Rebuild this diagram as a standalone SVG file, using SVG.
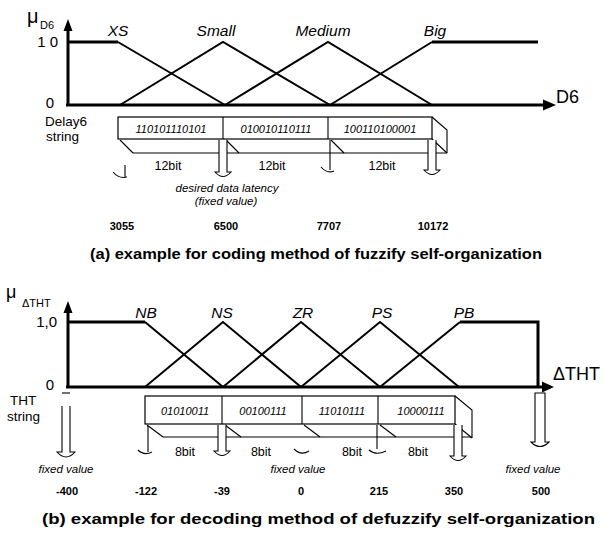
<svg xmlns="http://www.w3.org/2000/svg" width="604" height="533" viewBox="0 0 604 533">
<style>
  text { font-family: "Liberation Sans", Arial, sans-serif; fill: #000; }
  .axis { stroke: #000; stroke-width: 3; fill: none; }
  .mf { stroke: #000; stroke-width: 2; fill: none; stroke-linejoin: miter; }
  .plat { stroke: #000; stroke-width: 3; fill: none; }
  .box { stroke: #000; stroke-width: 1.2; fill: #fff; }
  .edge { stroke: #000; stroke-width: 1.1; fill: none; }
  .hol { stroke: #000; stroke-width: 1.1; fill: #fff; }
  .lbl { font-size: 15.5px; font-style: italic; }
  .bits { font-size: 11px; font-style: italic; }
  .nbit { font-size: 12.5px; }
  .num { font-size: 11px; font-weight: bold; }
  .note { font-size: 11.5px; font-style: italic; }
  .side { font-size: 13.5px; }
  .title { font-size: 14px; font-weight: bold; }
</style>
<rect width="604" height="533" fill="#fff"/>

<!-- ===== Part (a) ===== -->
<g id="chart-a">
  <g id="axes-a">
    <line class="axis" x1="68" y1="106" x2="68" y2="28"/>
    <polygon points="68,19 63.5,31 72.5,31" fill="#000"/>
    <line class="axis" x1="66" y1="105" x2="544" y2="105"/>
    <polygon points="556,105 543,99.5 543,110.5" fill="#000"/>
    <text x="27" y="23" font-size="20">μ</text>
    <text x="40" y="29" font-size="11">D6</text>
    <text x="58" y="47" font-size="15" text-anchor="end">1 0</text>
    <text x="54" y="108" font-size="15" text-anchor="end">0</text>
    <text x="556" y="103" font-size="18">D6</text>
  </g>
  <g id="mf-a">
    <polyline class="plat" points="68,42 118,42"/>
    <line class="mf" x1="118" y1="42" x2="225" y2="105"/>
    <polyline class="mf" points="120,105 223,42 330,105"/>
    <polyline class="mf" points="225,105 328,42 432,105"/>
    <polyline class="mf" points="330,105 432,42"/>
    <polyline class="plat" points="432,42 538,42"/>
    <text class="lbl" x="118" y="36" text-anchor="middle">XS</text>
    <text class="lbl" x="216" y="36" text-anchor="middle">Small</text>
    <text class="lbl" x="323" y="36" text-anchor="middle">Medium</text>
    <text class="lbl" x="435" y="36" text-anchor="middle">Big</text>
  </g>
  <g id="string-a">
    <text class="side" x="45" y="126">Delay6</text>
    <text class="side" x="46" y="141">string</text>
    <polyline class="edge" points="432,117 447,130 447,153"/>
    <line class="edge" x1="432" y1="139" x2="447" y2="153"/>
    <line class="edge" x1="133" y1="153" x2="447" y2="153"/>
    <line class="edge" x1="120" y1="140" x2="133" y2="153"/>
    <line class="edge" x1="226" y1="140" x2="239" y2="153"/>
    <line class="edge" x1="331" y1="140" x2="344" y2="153"/>
    <rect class="box" x="118" y="117" width="314" height="22"/>
    <line class="edge" x1="223" y1="117" x2="223" y2="139"/>
    <line class="edge" x1="328" y1="117" x2="328" y2="139"/>
    <text class="bits" x="171" y="133" text-anchor="middle">110101110101</text>
    <text class="bits" x="276" y="133" text-anchor="middle">010010110111</text>
    <text class="bits" x="380" y="133" text-anchor="middle">100110100001</text>
    <text class="nbit" x="168" y="170" text-anchor="middle">12bit</text>
    <text class="nbit" x="272" y="170" text-anchor="middle">12bit</text>
    <text class="nbit" x="382" y="170" text-anchor="middle">12bit</text>
  </g>
  <g id="connectors-a">
    <path class="edge" d="M125,165 V177 M113,172 Q119,179 127,177"/>
    <path class="hol" d="M219,140 V172 H215 Q223,181 231,172 H227 V140"/>
    <path class="edge" d="M330,140 V170 M321,167 Q327,174 334,171"/>
    <path class="hol" d="M428,140 V170 H424 Q432,179 440,170 H436 V140"/>
  </g>
  <g id="values-a">
    <text class="note" x="227" y="192" text-anchor="middle">desired data latency</text>
    <text class="note" x="226" y="205" text-anchor="middle">(fixed value)</text>
    <text class="num" x="122" y="230" text-anchor="middle">3055</text>
    <text class="num" x="226" y="230" text-anchor="middle">6500</text>
    <text class="num" x="329" y="230" text-anchor="middle">7707</text>
    <text class="num" x="433" y="230" text-anchor="middle">10172</text>
  </g>
  <text class="title" x="90" y="259" textLength="452" lengthAdjust="spacingAndGlyphs">(a) example for coding method of fuzzify self-organization</text>
</g>

<!-- ===== Part (b) ===== -->
<g id="chart-b">
  <g id="axes-b">
    <line class="axis" x1="68" y1="388" x2="68" y2="310"/>
    <polygon points="68,301 63.5,313 72.5,313" fill="#000"/>
    <line class="axis" x1="66" y1="387" x2="543" y2="387"/>
    <polygon points="554,387 542,381.5 542,392.5" fill="#000"/>
    <text x="6" y="298" font-size="18">μ</text>
    <text x="22" y="307" font-size="11">ΔTHT</text>
    <text x="57" y="327" font-size="15" text-anchor="end">1,0</text>
    <text x="54" y="390" font-size="15" text-anchor="end">0</text>
    <text x="553" y="380" font-size="18">ΔTHT</text>
  </g>
  <g id="mf-b">
    <polyline class="plat" points="68,322 145,322"/>
    <line class="mf" x1="145" y1="322" x2="223" y2="387"/>
    <polyline class="mf" points="145,387 223,322 301,387"/>
    <polyline class="mf" points="223,387 301,322 380,387"/>
    <polyline class="mf" points="301,387 380,322 459,387"/>
    <polyline class="mf" points="380,387 460,322"/>
    <polyline class="plat" points="460,322 538,322 538,387"/>
    <text class="lbl" x="146" y="318" text-anchor="middle" font-size="15">NB</text>
    <text class="lbl" x="222" y="318" text-anchor="middle" font-size="15">NS</text>
    <text class="lbl" x="303" y="318" text-anchor="middle" font-size="15">ZR</text>
    <text class="lbl" x="382" y="318" text-anchor="middle" font-size="15">PS</text>
    <text class="lbl" x="464" y="318" text-anchor="middle" font-size="15">PB</text>
  </g>
  <g id="string-b">
    <text class="side" x="10" y="405" font-size="13">THT</text>
    <text class="side" x="7" y="421" font-size="13">string</text>
    <polyline class="edge" points="455,396 472,410 472,438"/>
    <line class="edge" x1="455" y1="424" x2="472" y2="438"/>
    <line class="edge" x1="163" y1="437" x2="472" y2="437"/>
    <line class="edge" x1="147" y1="425" x2="163" y2="437"/>
    <line class="edge" x1="225" y1="425" x2="241" y2="437"/>
    <line class="edge" x1="304" y1="425" x2="320" y2="437"/>
    <line class="edge" x1="380" y1="425" x2="396" y2="437"/>
    <rect class="box" x="145" y="396" width="310" height="28"/>
    <line class="edge" x1="222" y1="396" x2="222" y2="424"/>
    <line class="edge" x1="302" y1="396" x2="302" y2="424"/>
    <line class="edge" x1="378" y1="396" x2="378" y2="424"/>
    <text class="bits" x="185" y="415" text-anchor="middle" font-size="11.5">01010011</text>
    <text class="bits" x="263" y="415" text-anchor="middle" font-size="11.5">00100111</text>
    <text class="bits" x="342" y="415" text-anchor="middle" font-size="11.5">11010111</text>
    <text class="bits" x="421" y="415" text-anchor="middle" font-size="11.5">10000111</text>
    <text class="nbit" x="185" y="456" text-anchor="middle">8bit</text>
    <text class="nbit" x="261" y="456" text-anchor="middle">8bit</text>
    <text class="nbit" x="352" y="456" text-anchor="middle">8bit</text>
    <text class="nbit" x="418" y="456" text-anchor="middle">8bit</text>
  </g>
  <g id="connectors-b">
    <line class="edge" x1="62" y1="393" x2="70" y2="393"/>
    <path class="hol" d="M62,406 V452 H57 Q66,462 75,452 H70 V406"/>
    <path class="edge" d="M148,426 V452 M138,450 Q144,456 152,452"/>
    <path class="hol" d="M218,425 V451 H214 Q222,460 230,451 H226 V425"/>
    <path class="edge" d="M294,449 Q301,456 309,451"/>
    <path class="edge" d="M377,425 V449 M369,450 Q376,456 386,451"/>
    <path class="hol" d="M454,425 V456 H450 Q458,465 466,456 H462 V425"/>
    <path class="hol" d="M535,393 V442 H531 Q540,451 549,442 H545 V393 Z"/>
  </g>
  <g id="values-b">
    <text class="note" x="66" y="473" text-anchor="middle">fixed value</text>
    <text class="note" x="298" y="473" text-anchor="middle">fixed value</text>
    <text class="note" x="533" y="473" text-anchor="middle">fixed value</text>
    <text class="num" x="67" y="495" text-anchor="middle">-400</text>
    <text class="num" x="146" y="495" text-anchor="middle">-122</text>
    <text class="num" x="222" y="495" text-anchor="middle">-39</text>
    <text class="num" x="301" y="495" text-anchor="middle">0</text>
    <text class="num" x="379" y="495" text-anchor="middle">215</text>
    <text class="num" x="454" y="495" text-anchor="middle">350</text>
    <text class="num" x="541" y="495" text-anchor="middle">500</text>
  </g>
  <text class="title" x="42" y="524" textLength="553" lengthAdjust="spacingAndGlyphs">(b) example for decoding method of defuzzify self-organization</text>
</g>
</svg>
